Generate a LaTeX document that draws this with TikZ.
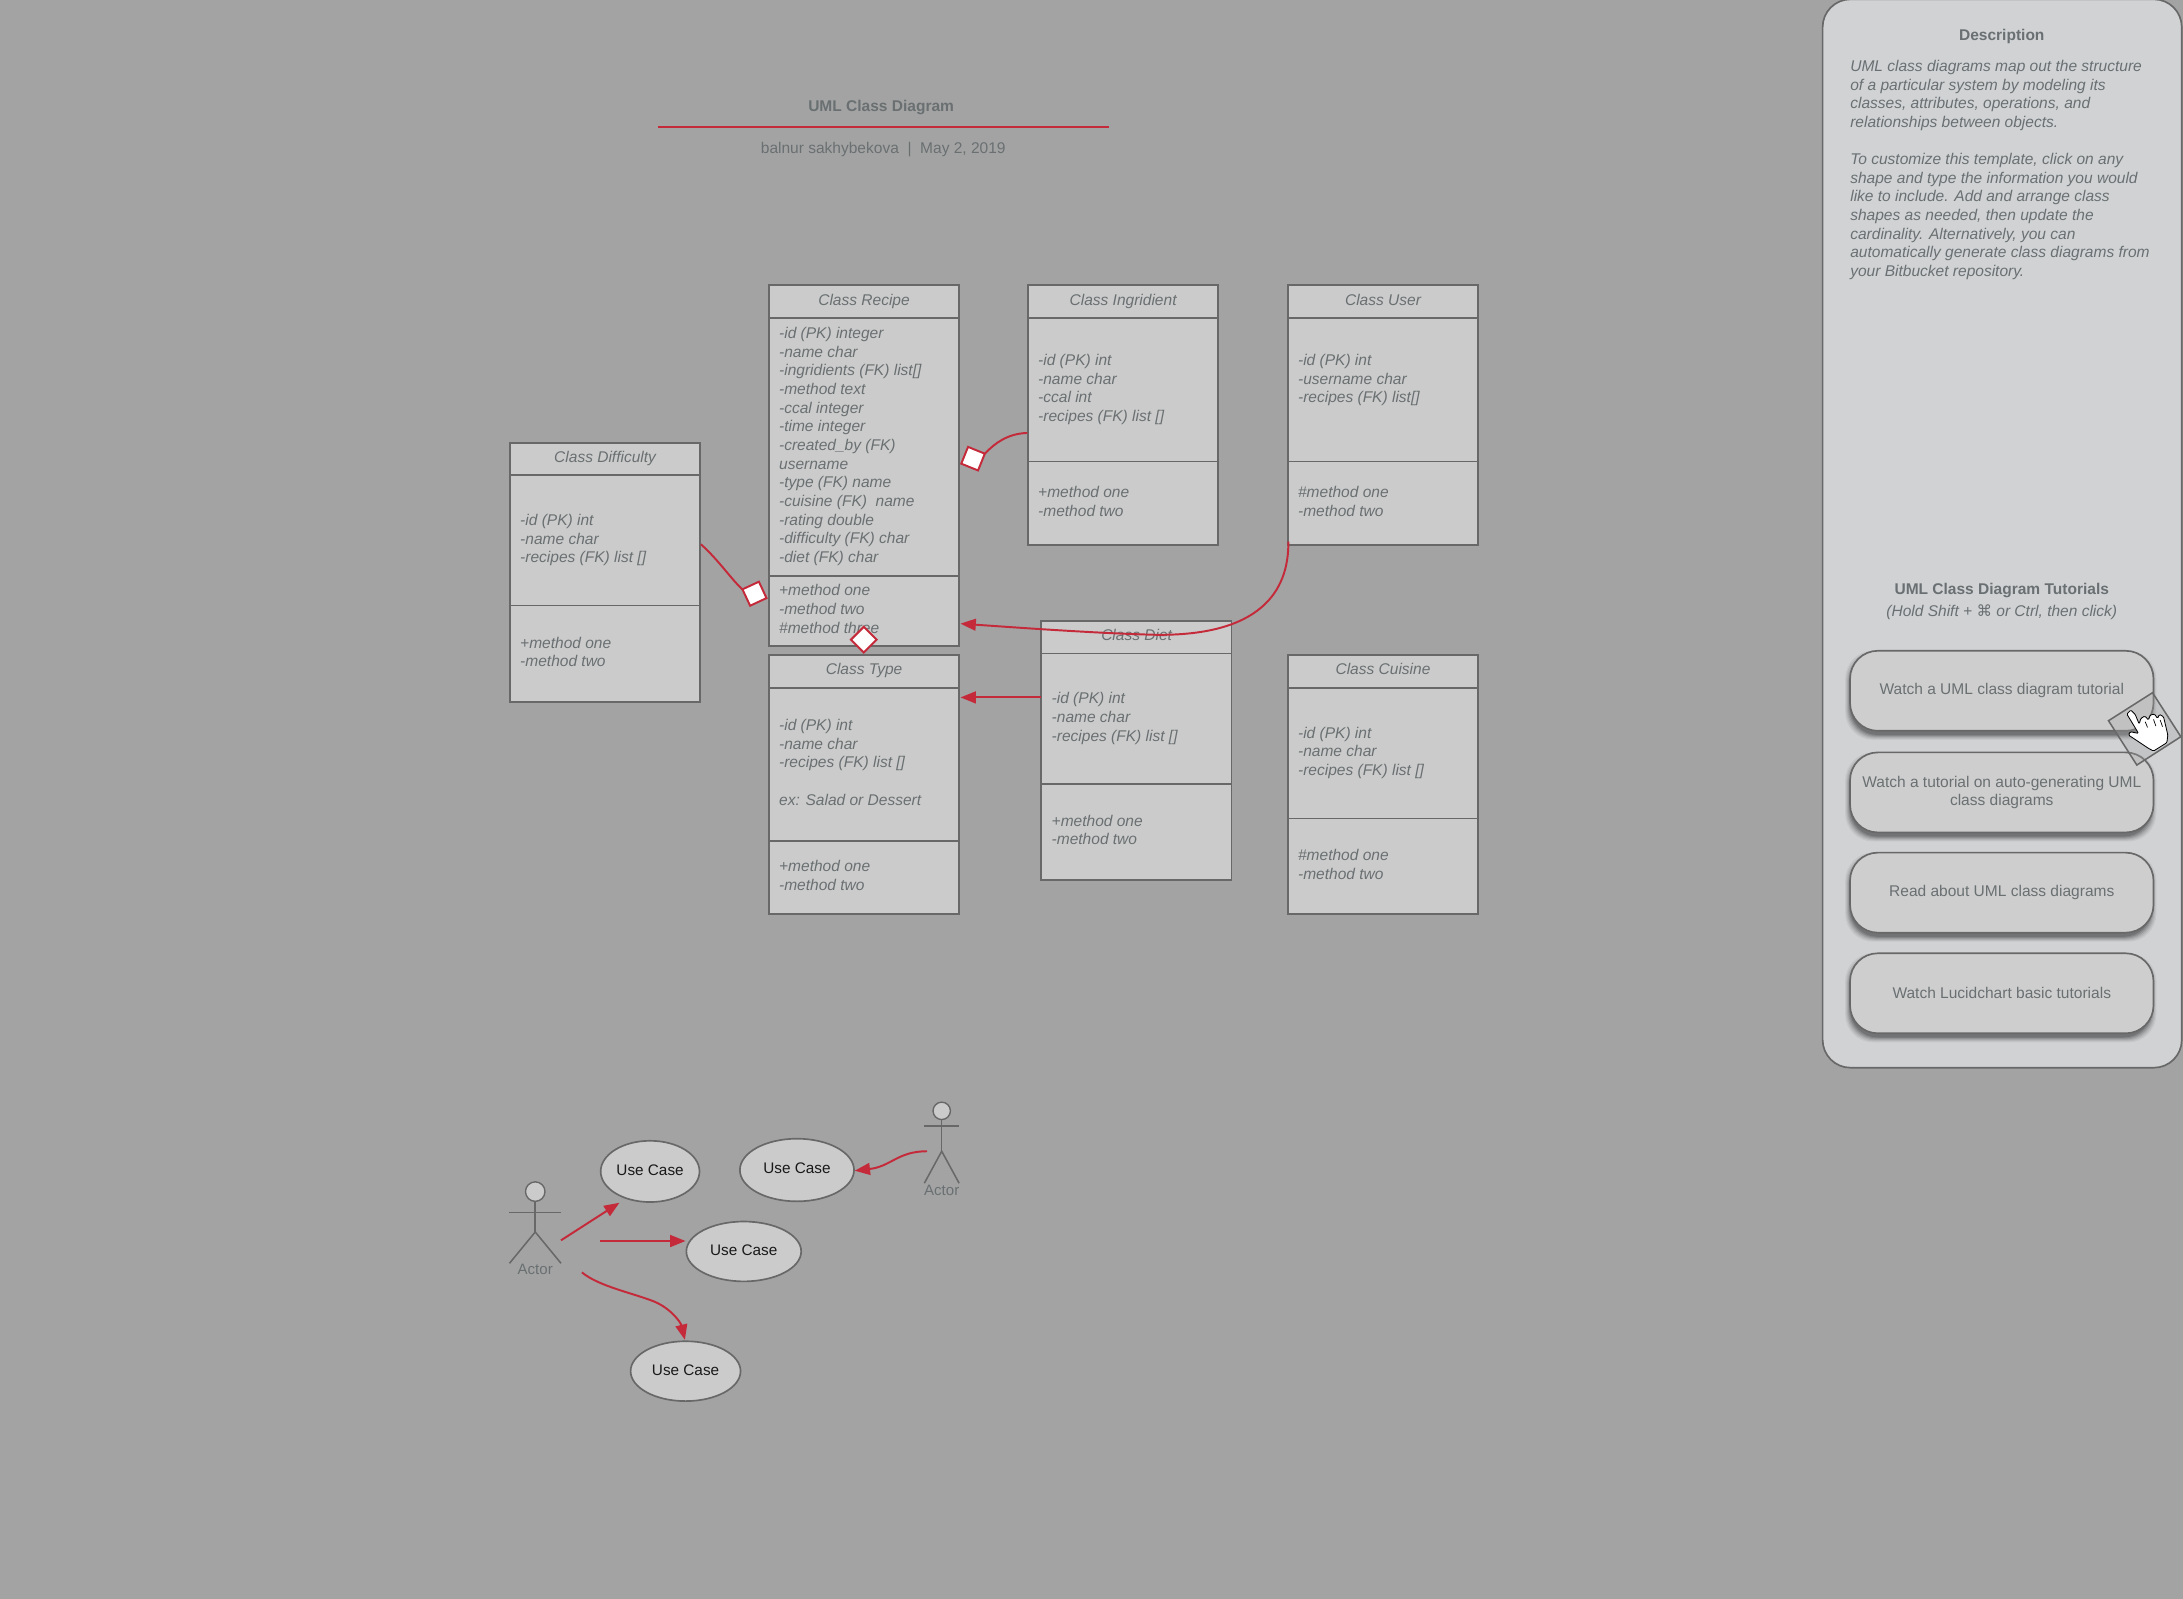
\documentclass[tikz,border=0pt]{standalone}
\usepackage{fontspec}
\setmainfont{Liberation Sans}
\newfontfamily\symfont{DejaVu Sans}
\usetikzlibrary{arrows.meta,shapes.geometric,calc}
\definecolor{bgc}{HTML}{A3A3A3}
\definecolor{panelc}{HTML}{D0D2D4}
\definecolor{boxc}{HTML}{CBCBCB}
\definecolor{btnc}{HTML}{CECECE}
\definecolor{linec}{HTML}{686868}
\definecolor{textc}{HTML}{6A7072}
\definecolor{redc}{HTML}{C42A3A}
\tikzset{
  x=1pt,y=-1pt,
  umlbox/.style={draw=linec,fill=boxc,line width=1.3pt,minimum width=136.6pt,inner sep=0pt,outer sep=0pt,anchor=north west},
  divider/.style={draw=linec,line width=1.3pt},
  ttl/.style={font=\fontsize{11.15}{13.4}\selectfont\itshape,text=textc,inner sep=0pt,text height=8pt,text depth=2.5pt},
  attr/.style={font=\fontsize{11.15}{13.4}\selectfont\itshape,text=textc,align=left,anchor=west,inner sep=0pt},
  plain/.style={font=\fontsize{11.15}{13.4}\selectfont,text=textc,inner sep=0pt,align=center},
  heading/.style={font=\fontsize{11.15}{13.4}\selectfont\bfseries,text=textc,inner sep=0pt,text height=8pt,text depth=2.5pt},
  btn/.style={draw=linec,fill=btnc,line width=1.2pt,rounded corners=20pt,minimum width=218pt,inner sep=0pt,outer sep=0pt,anchor=north west,font=\fontsize{11.15}{13.4}\selectfont,text=textc,align=center},
  rel/.style={draw=redc,line width=1.4pt},
  relarrow/.style={rel,-{Triangle[length=11pt,width=8.5pt]}},
  mark box/.style={draw=redc,fill=white,line width=1.4pt,minimum size=13pt,inner sep=0pt,outer sep=0pt},
  usecase/.style={ellipse,draw=linec,fill=boxc,line width=1.2pt,inner sep=0pt,font=\fontsize{11}{13.4}\selectfont,text=black!90},
  figure/.style={draw=linec,line width=1.1pt},
  actorlabel/.style={font=\fontsize{10.8}{13}\selectfont,text=textc,inner sep=0pt,text height=7.5pt,text depth=0pt},
}
\newcommand{\umlclass}[9]{%
  \pgfmathsetmacro{\hh}{#6-#3}%
  \pgfmathsetmacro{\ya}{(#4+#5)/2}\pgfmathsetmacro{\ym}{(#5+#6)/2}\pgfmathsetmacro{\yt}{#3+11.5}%
  \node[umlbox,minimum height=\hh pt] (#1) at (#2,#3) {};
  \draw[divider] (#1.west |- 0,#4) -- (#1.east |- 0,#4);
  \draw[divider] (#1.west |- 0,#5) -- (#1.east |- 0,#5);
  \node[ttl] (#1-title) at (#2+68.5,\yt) {#7};
  \node[attr] (#1-attrs) at (#2+7.3,\ya) {\strut #8\strut};
  \node[attr] (#1-methods) at (#2+7.3,\ym) {\strut #9\strut};
}
\newcommand{\tutbtn}[4]{%
  \foreach \s/\o in {3.5/.05,2.8/.06,2.1/.08,1.4/.10,.7/.12,0/.14}{
    \fill[black,opacity=\o,rounded corners=20pt] (1329-\s,#2+3.5-\s) rectangle (1547+\s-1.5,#2+#3+3+\s);
  }
  \node[btn,minimum height=#3 pt] (#1) at (1329,#2) {#4};
}
\begin{document}
\begin{tikzpicture}
\useasboundingbox (0,0) rectangle (1568.2,1148);
\fill[bgc] (-3,-3) rectangle (1572,1152);

% title
\node[heading] (title) at (633,77) {UML Class Diagram};
\coordinate (ruleL) at (473,91.5);
\coordinate (ruleR) at (797,91.5);
\draw[rel] (ruleL) -- (ruleR);
\node[plain] (author) at (634.5,107.5) {\strut balnur sakhybekova\ \ |\ \ May 2, 2019};

% side panel
\node[draw=linec,fill=panelc,line width=1.2pt,rounded corners=20pt,minimum width=258pt,minimum height=767.5pt,anchor=north west,inner sep=0pt,outer sep=0pt] (panel) at (1309.3,-0.5) {};
\node[heading] (desc) at (1438,26.3) {Description};
\node[attr,anchor=north west] (desctext) at (1329,43) {UML class diagrams map out the structure\\
of a particular system by modeling its\\
classes, attributes, operations, and\\
relationships between objects.\\
~\\
To customize this template, click on any\\
shape and type the information you would\\
like to include. Add and arrange class\\
shapes as needed, then update the\\
cardinality. Alternatively, you can\\
automatically generate class diagrams from\\
your Bitbucket repository.};
\node[heading] (tuthead) at (1438,424.3) {UML Class Diagram Tutorials};
\node[ttl] (tutsub) at (1438,440.3) {(Hold Shift + {\symfont\upshape ⌘} or Ctrl, then click)};
\tutbtn{b1}{467.5}{57.5}{Watch a UML class diagram tutorial}
\tutbtn{b2}{540.5}{57.5}{Watch a tutorial on auto-generating UML\\class diagrams}
\tutbtn{b3}{612.5}{57.5}{Read about UML class diagrams}
\tutbtn{b4}{684.8}{57.5}{Watch Lucidchart basic tutorials}

% cursor
\begin{scope}[shift={(1307.5,445.4)},scale=0.2395]
\draw[fill=gray!70,fill opacity=.3,draw=linec,line width=1.1pt] (997,218) -- (1082,350) -- (950,435) -- (865,302) -- cycle;
\draw[fill=white,draw=black,line width=.6pt,rounded corners=.8pt]
 (920,282)--(932,270)--(945,283)--(957,312)--(962,295)--(974,288)--(985,300)--(990,285)--(1003,282)--(1012,295)--(1018,283)--(1030,290)--(1043,345)--(1040,368)--(1000,393)--(985,385)--(955,365)--(925,345)--(930,335)--(955,340)--(940,315)--cycle;
\draw[black,line width=.5pt] (975,305)--(982,322) (1000,298)--(1007,318) (1020,300)--(1027,320);
\end{scope}

% classes
\umlclass{recipe}{552.2}{205}{228.5}{413.5}{464}{Class Recipe}{-id (PK) integer\\-name char\\-ingridients (FK) list[]\\-method text\\-ccal integer\\-time integer\\-created\_by (FK)\\username\\-type (FK) name\\-cuisine (FK)\ \ name\\-rating double\\-difficulty (FK) char\\-diet (FK) char}{+method one\\-method two\\\#method three}
\umlclass{ingridient}{738.3}{205}{228.5}{331.5}{391.5}{Class Ingridient}{-id (PK) int\\-name char\\-ccal int\\-recipes (FK) list []}{+method one\\-method two}
\umlclass{user}{925}{205}{228.5}{331.5}{391.5}{Class User}{-id (PK) int\\-username char\\-recipes (FK) list[]\\~}{\#method one\\-method two}
\umlclass{difficulty}{366.2}{318}{341.5}{435}{504.5}{Class Difficulty}{-id (PK) int\\-name char\\-recipes (FK) list []}{+method one\\-method two}
\umlclass{type}{552.2}{470.5}{494}{604}{656.5}{Class Type}{-id (PK) int\\-name char\\-recipes (FK) list []\\~\\ex: Salad or Dessert}{+method one\\-method two}
\umlclass{diet}{748}{446}{469.5}{563}{632}{Class Diet}{-id (PK) int\\-name char\\-recipes (FK) list []}{+method one\\-method two}
\umlclass{cuisine}{925}{470.5}{494}{588}{656.5}{Class Cuisine}{-id (PK) int\\-name char\\-recipes (FK) list []}{\#method one\\-method two}

% relation marks
\node[mark box,rotate=-22] (mI) at (699,329.5) {};
\node[mark box,rotate=25] (mD) at (542,426.5) {};
\node[mark box,rotate=45] (mT) at (620.5,459.5) {};
\coordinate (iOut) at (738,311);
\coordinate (dOut) at (503.5,391);
\coordinate (uOut) at (925.5,389);
\coordinate (rIn) at (690,448);
\coordinate (dietOut) at (748,501);
\coordinate (tIn) at (690,501);
\draw[rel] (iOut) .. controls (724,311.5) and (715,318) .. (mI.north east);
\draw[rel] (dOut) .. controls (516,402) and (526,417) .. (mD.north west);
\draw[relarrow] (uOut) .. controls (926,425) and (905,457) .. (830,456) .. controls (790,455) and (740,451.5) .. (rIn);
\draw[relarrow] (dietOut) -- (tIn);

% use cases
\node[usecase,minimum width=71pt,minimum height=44pt] (u1) at (467,841.5) {\raisebox{2pt}{Use Case}};
\node[usecase,minimum width=82pt,minimum height=45pt] (u2) at (572.5,840.5) {\raisebox{3pt}{Use Case}};
\node[usecase,minimum width=82.5pt,minimum height=43pt] (u3) at (534.3,899) {\raisebox{2pt}{Use Case}};
\node[usecase,minimum width=79pt,minimum height=43pt] (u4) at (492.5,985) {\raisebox{2pt}{Use Case}};

% actors
\node[circle,draw=linec,fill=boxc,line width=1pt,minimum size=14pt,inner sep=0pt] (a1head) at (384.5,856) {};
\coordinate (a1hip) at (384.5,885);
\draw[figure] (a1head.south) -- (a1hip);
\coordinate (a1armL) at (366,871);\coordinate (a1armR) at (403,871);
\draw[figure] (a1armL) -- (a1armR);
\coordinate (a1legL) at (366,907.5);\coordinate (a1legR) at (403,907.5);
\draw[figure] (a1legL) -- (a1hip) -- (a1legR);
\node[actorlabel] (a1label) at (384.5,912) {Actor};

\node[circle,draw=linec,fill=boxc,line width=1pt,minimum size=12.5pt,inner sep=0pt] (a2head) at (676.5,798) {};
\coordinate (a2hip) at (676.5,827);
\draw[figure] (a2head.south) -- (a2hip);
\coordinate (a2armL) at (664,809);\coordinate (a2armR) at (689,809);
\draw[figure] (a2armL) -- (a2armR);
\coordinate (a2legL) at (664,850);\coordinate (a2legR) at (689,850);
\draw[figure] (a2legL) -- (a2hip) -- (a2legR);
\node[actorlabel] (a2label) at (676.5,855) {Actor};

% actor relations
\coordinate (s1) at (403,891);\coordinate (e1) at (445,864);
\coordinate (s2) at (431,891.5);
\coordinate (s3) at (418,914);\coordinate (e3) at (492,962.5);
\coordinate (s4) at (666,827);\coordinate (e4) at (614,841);
\draw[relarrow] (s1) -- (e1);
\draw[relarrow] (s2) -- (u3.west |- s2);
\draw[relarrow] (s3) .. controls (430,924) and (455,929) .. (470,935) .. controls (482,940) and (489,950) .. (e3);
\draw[relarrow] (s4) .. controls (645,827) and (640,838) .. (e4);
\end{tikzpicture}
\end{document}
